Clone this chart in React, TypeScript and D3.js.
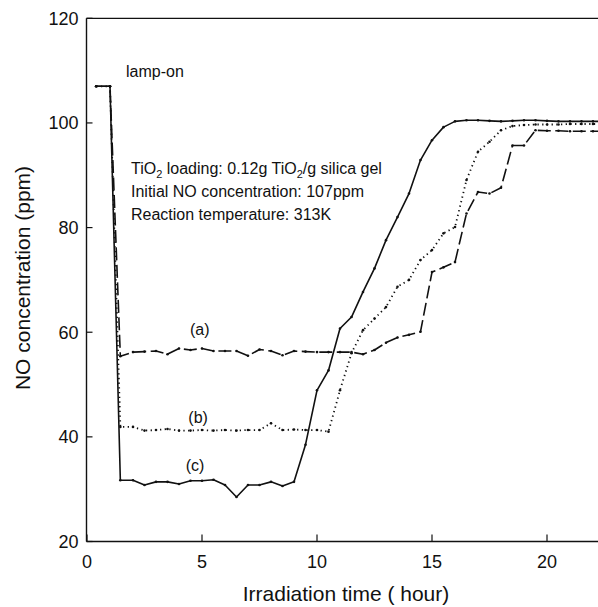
import React from "react";
import * as d3 from "d3";

const times = [0.4, 1.0, 1.45, 2, 2.5, 3, 3.5, 4, 4.5, 5, 5.5, 6, 6.5, 7, 7.5, 8, 8.5, 9, 9.5, 10, 10.5, 11, 11.5, 12, 12.5, 13, 13.5, 14, 14.5, 15, 15.5, 16, 16.5, 17, 17.5, 18, 18.5, 19, 19.5, 20, 20.5, 21, 21.5, 22, 22.5];

const seriesA = [107, 107, 55.4, 56.2, 56.3, 56.4, 55.8, 56.9, 56.6, 56.9, 56.4, 56.4, 56.4, 55.5, 56.7, 56.4, 55.6, 56.4, 56.3, 56.2, 56.2, 56.2, 56.2, 55.8, 56.6, 58.0, 59.0, 59.5, 60.1, 71.5, 72.4, 73.4, 82.7, 86.8, 86.5, 87.6, 95.7, 95.7, 98.6, 98.5, 98.5, 98.4, 98.4, 98.4, 98.4];

const seriesB = [107, 107, 41.9, 41.9, 41.2, 41.3, 41.5, 41.2, 41.2, 41.3, 41.2, 41.3, 41.2, 41.3, 41.3, 42.6, 41.3, 41.4, 41.3, 41.3, 41.0, 48.9, 56.0, 60.4, 62.6, 64.8, 68.7, 70.0, 73.8, 75.7, 78.9, 80.1, 89.1, 94.5, 96.4, 98.6, 99.4, 99.6, 99.7, 99.7, 99.7, 99.8, 99.8, 99.8, 99.8];

const seriesC = [107, 107, 31.7, 31.7, 30.8, 31.4, 31.4, 31.0, 31.6, 31.6, 31.8, 30.8, 28.5, 30.8, 30.8, 31.4, 30.6, 31.4, 38.5, 48.9, 52.7, 60.7, 62.9, 67.7, 72.2, 77.6, 82.0, 86.5, 92.9, 96.7, 99.2, 100.3, 100.5, 100.5, 100.4, 100.3, 100.4, 100.5, 100.5, 100.4, 100.3, 100.3, 100.3, 100.3, 100.3];

const xTicks = [0, 5, 10, 15, 20];
const yTicks = [20, 40, 60, 80, 100, 120];

const seriesLabels = ["(a)", "(b)", "(c)"];
const labelPos = [
  { t: 4.9, v: 59.4 },
  { t: 4.83, v: 42.6 },
  { t: 4.7, v: 33.4 },
];
const annotationLines = ["Initial NO concentration: 107ppm", "Reaction temperature: 313K"];

const FONT = "'Liberation Sans', Arial, Helvetica, sans-serif";

export default function App() {
  const W = 598;
  const H = 607;
  const left = 86.5;
  const top = 18.3;
  const bottom = 541.5;

  const x = d3.scaleLinear().domain([0, 20]).range([87, 547]);
  const y = d3.scaleLinear().domain([20, 120]).range([bottom, top]);

  const line = d3
    .line<number>()
    .x((_, i) => x(times[i]))
    .y((d) => y(d));

  const styles = [
    { data: seriesA, dash: "13 4.5", width: 1.6 },
    { data: seriesB, dash: "1.3 3.4", width: 1.8 },
    { data: seriesC, dash: undefined as string | undefined, width: 1.6 },
  ];

  const fg = "#111";

  return (
    <svg
      width={W}
      height={H}
      style={{ position: "absolute", left: 0, top: 0, background: "#fff" }}
      fontFamily={FONT}
    >
      <defs>
        <clipPath id="plot">
          <rect x={left} y={top - 2} width={W - left} height={bottom - top + 4} />
        </clipPath>
      </defs>
      <rect x={0} y={0} width={W} height={H} fill="#fff" />

      {/* frame */}
      <line x1={left} y1={top} x2={W} y2={top} stroke={fg} strokeWidth={1.3} />
      <line x1={left} y1={top} x2={left} y2={bottom} stroke={fg} strokeWidth={1.4} />
      <line x1={left} y1={bottom} x2={W} y2={bottom} stroke={fg} strokeWidth={1.4} />

      {/* x ticks (inside) */}
      {xTicks.map((t) => (
        <g key={"xt" + t}>
          <line x1={x(t)} x2={x(t)} y1={bottom} y2={bottom - 7} stroke={fg} strokeWidth={1.2} />
          <text x={x(t)} y={bottom + 26} textAnchor="middle" fontSize={18} fill={fg}>
            {t}
          </text>
        </g>
      ))}

      {/* y ticks (inside) */}
      {yTicks.map((v) => (
        <g key={"yt" + v}>
          <line x1={left} x2={left + 6} y1={y(v)} y2={y(v)} stroke={fg} strokeWidth={1.2} />
          <text x={78.5} y={y(v)} dy="0.35em" textAnchor="end" fontSize={18} fill={fg}>
            {v}
          </text>
        </g>
      ))}

      {/* axis titles */}
      <text x={346} y={601} textAnchor="middle" fontSize={21} fill={fg}>
        Irradiation time ( hour)
      </text>
      <text
        transform={`translate(30,278) rotate(-90)`}
        textAnchor="middle"
        fontSize={21}
        fill={fg}
      >
        NO concentration (ppm)
      </text>

      {/* series */}
      <g clipPath="url(#plot)">
        {styles.map((s, si) => (
          <g key={"s" + si}>
            <path
              d={line(s.data) || ""}
              fill="none"
              stroke={fg}
              strokeWidth={s.width}
              strokeDasharray={s.dash}
              strokeLinejoin="round"
            />
            {s.data.map((v, i) => (
              <circle key={i} cx={x(times[i])} cy={y(v)} r={1.3} fill={fg} />
            ))}
          </g>
        ))}
      </g>

      {/* series labels */}
      {seriesLabels.map((lab, i) => (
        <text
          key={lab}
          x={x(labelPos[i].t)}
          y={y(labelPos[i].v)}
          textAnchor="middle"
          fontSize={16}
          fill={fg}
        >
          {lab}
        </text>
      ))}

      {/* annotations */}
      <text x={126} y={77} fontSize={16} fill={fg}>
        lamp-on
      </text>
      <text x={131} y={174} fontSize={16} fill={fg}>
        TiO<tspan fontSize={11} dy={4}>2</tspan>
        <tspan dy={-4}> loading: 0.12g TiO</tspan>
        <tspan fontSize={11} dy={4}>2</tspan>
        <tspan dy={-4}>/g silica gel</tspan>
      </text>
      {annotationLines.map((s, i) => (
        <text key={s} x={131} y={197 + i * 23} fontSize={16} fill={fg}>
          {s}
        </text>
      ))}
    </svg>
  );
}
